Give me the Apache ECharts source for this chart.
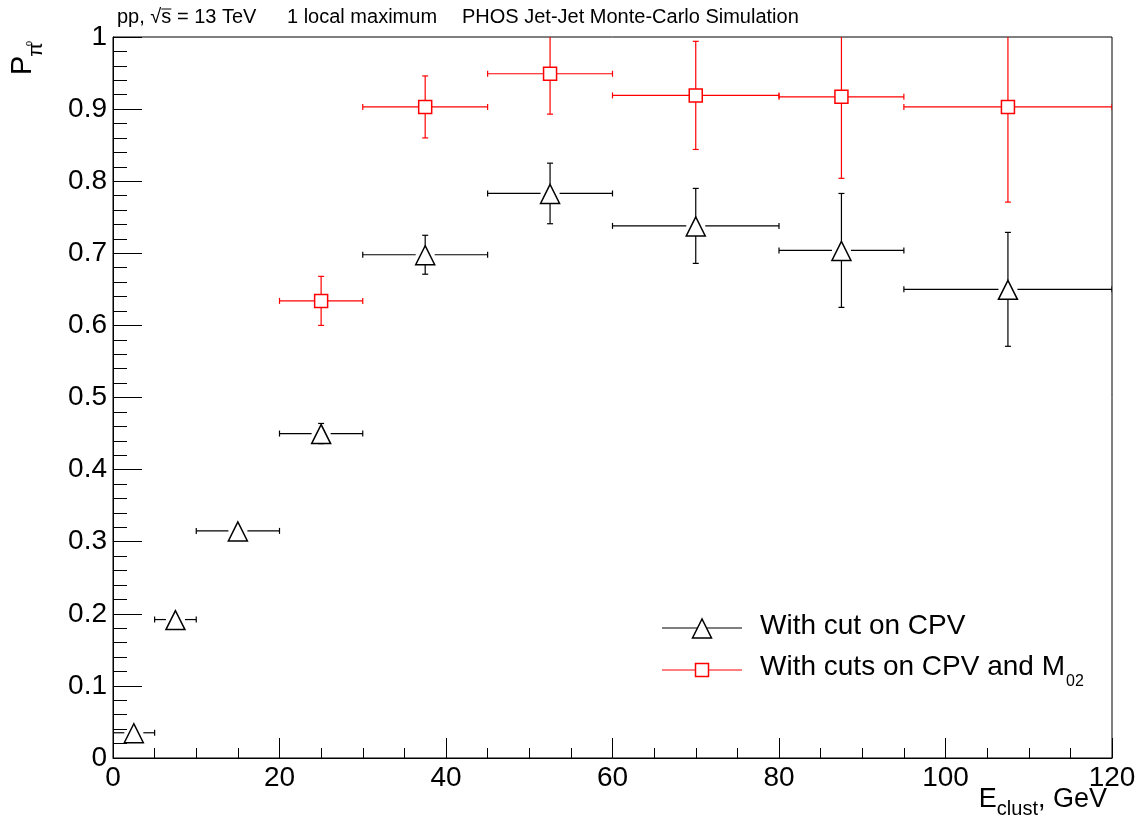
<!DOCTYPE html>
<html>
<head>
<meta charset="utf-8">
<script src="https://cdn.jsdelivr.net/npm/echarts@6/dist/echarts.min.js"></script>
<style>
  html, body { margin: 0; padding: 0; background: #fff; }
  #chart { width: 1144px; height: 827px; }
</style>
</head>
<body>
<div id="chart"></div>
<script>
// "With cut on CPV" (black triangles): bin centre, half bin width, value, stat. error
const cpvX    = [2.5, 7.5, 15, 25, 37.5, 52.5, 70, 87.5, 107.5];
const cpvXErr = [2.5, 2.5, 5, 5, 7.5, 7.5, 10, 7.5, 12.5];
const cpvY    = [0.035, 0.192, 0.315, 0.450, 0.698, 0.783, 0.738, 0.704, 0.650];
const cpvYErr = [0.004, 0.005, 0.007, 0.014, 0.027, 0.042, 0.052, 0.079, 0.079];

// "With cuts on CPV and M02" (red squares)
const m02X    = [25, 37.5, 52.5, 70, 87.5, 107.5];
const m02XErr = [5, 7.5, 7.5, 10, 7.5, 12.5];
const m02Y    = [0.634, 0.903, 0.949, 0.919, 0.917, 0.903];
const m02YErr = [0.034, 0.043, 0.056, 0.075, 0.113, 0.132];

const xTicks = [0, 20, 40, 60, 80, 100, 120];
const yTicks = [0, 0.1, 0.2, 0.3, 0.4, 0.5, 0.6, 0.7, 0.8, 0.9, 1];

const FONT = '"Liberation Sans", Arial, Helvetica, sans-serif';
const RED = '#ff0000';

const chart = echarts.init(document.getElementById('chart'));

const mctx = document.createElement('canvas').getContext('2d');
const tw = (s, size) => { mctx.font = size + 'px ' + FONT; return mctx.measureText(s).width; };
// y of the text middle for a given baseline
const mid = (base, size) => base - 0.33 * size;
const txt = (x, base, text, size, extra) => ({
  type: 'text', x: x, y: mid(base, size),
  style: Object.assign({ text: text, font: size + 'px ' + FONT, fill: '#000', verticalAlign: 'middle' }, extra || {})
});

const zip = (xs, xe, ys, ye) => xs.map((x, i) => [x, ys[i], xe[i], ye[i]]);

function errRender(kind, color) {
  return function (params, api) {
    const x = api.value(0), y = api.value(1), xe = api.value(2), ye = api.value(3);
    const c = api.coord([x, y]);
    const l = api.coord([x - xe, y]);
    const r = api.coord([x + xe, y]);
    const t = api.coord([x, y + ye]);
    const b = api.coord([x, y - ye]);
    const gap = kind === 'tri' ? 9.5 : 6.5;
    const up = kind === 'tri' ? 9 : 6.5, down = kind === 'tri' ? 10 : 6.5;
    const cap = 3;
    const ls = { stroke: color, lineWidth: 1.2 };
    const kids = [];
    const seg = (x1, y1, x2, y2) => kids.push({ type: 'line', shape: { x1, y1, x2, y2 }, style: ls });
    seg(l[0], c[1], c[0] - gap, c[1]);
    seg(c[0] + gap, c[1], r[0], c[1]);
    seg(l[0], c[1] - cap, l[0], c[1] + cap);
    seg(r[0], c[1] - cap, r[0], c[1] + cap);
    if (c[1] - t[1] > up) {
      seg(c[0], c[1] - up, c[0], t[1]);
      seg(c[0] - cap, t[1], c[0] + cap, t[1]);
    }
    if (b[1] - c[1] > down - 0.5) {
      seg(c[0], c[1] + down, c[0], b[1]);
      seg(c[0] - cap, b[1], c[0] + cap, b[1]);
    }
    if (kind === 'tri') {
      kids.push({ type: 'polygon',
        shape: { points: [[c[0], c[1] - 9], [c[0] - 9.5, c[1] + 10], [c[0] + 9.5, c[1] + 10]] },
        style: { fill: '#fff', stroke: color, lineWidth: 1.5 } });
    } else {
      kids.push({ type: 'rect', shape: { x: c[0] - 6.5, y: c[1] - 6.5, width: 13, height: 13 },
        style: { fill: '#fff', stroke: color, lineWidth: 1.5 } });
    }
    return { type: 'group', children: kids };
  };
}

// header text
const hSize = 20, hBase = 24;
const sX = 117 + tw('pp, √', hSize);
const graphics = [
  txt(117, hBase, 'pp, √s = 13 TeV', hSize),
  { type: 'line', shape: { x1: sX, y1: hBase - 15, x2: sX + tw('s', hSize), y2: hBase - 15 }, style: { stroke: '#000', lineWidth: 1 } },
  txt(287, hBase, '1 local maximum', hSize),
  txt(462, hBase, 'PHOS Jet-Jet Monte-Carlo Simulation', hSize)
];

// x title: E_clust, GeV (right aligned to frame)
const tSize = 27, tSub = 20, tBase = 808;
const partE = 'E', partSub = 'clust', partRest = ', GeV';
const titleW = tw(partE, tSize) + tw(partSub, tSub) + tw(partRest, tSize);
let tx = 1107 - titleW;
graphics.push(txt(tx, tBase, partE, tSize));
tx += tw(partE, tSize);
graphics.push(txt(tx, tBase + 8.5, partSub, tSub));
tx += tw(partSub, tSub);
graphics.push(txt(tx, tBase, partRest, tSize));

// y title: P_{pi^0}, rotated
const pW = tw('P', 29);
graphics.push({
  type: 'group', x: 33, y: 75, rotation: Math.PI / 2,
  children: [
    txt(0, 0, 'P', 29),
    txt(pW - 1, 10, 'π', 21),
    txt(29, -1, '0', 9)
  ]
});

// legend
const lgSize = 28;
graphics.push(
  { type: 'line', shape: { x1: 662, y1: 628, x2: 742, y2: 628 }, style: { stroke: '#000', lineWidth: 1.2 } },
  { type: 'polygon', shape: { points: [[702, 619], [692.5, 638], [711.5, 638]] }, style: { fill: '#fff', stroke: '#000', lineWidth: 1.5 } },
  txt(760, 636, 'With cut on CPV', lgSize),
  { type: 'line', shape: { x1: 662, y1: 670, x2: 742, y2: 670 }, style: { stroke: RED, lineWidth: 1.2 } },
  { type: 'rect', shape: { x: 695.5, y: 663.5, width: 13, height: 13 }, style: { fill: '#fff', stroke: RED, lineWidth: 1.5 } },
  txt(760, 677, 'With cuts on CPV and M', lgSize),
  txt(760 + tw('With cuts on CPV and M', lgSize) + 1, 687, '02', 16)
);

const option = {
  animation: false,
  backgroundColor: '#fff',
  grid: { left: 113, right: 32, top: 37, bottom: 69, show: true, borderColor: '#000', borderWidth: 1, backgroundColor: 'transparent' },
  xAxis: {
    type: 'value', min: xTicks[0], max: xTicks[xTicks.length - 1], interval: 20,
    axisLine: { show: true, onZero: false, lineStyle: { color: '#000', width: 1 } },
    axisTick: { show: true, inside: true, length: 20, lineStyle: { color: '#000', width: 1 } },
    minorTick: { show: true, splitNumber: 4, length: 10, lineStyle: { color: '#000', width: 1 } },
    splitLine: { show: false },
    axisLabel: { color: '#000', fontSize: 28, fontFamily: FONT, margin: 6, showMinLabel: true, showMaxLabel: true }
  },
  yAxis: {
    type: 'value', min: yTicks[0], max: yTicks[yTicks.length - 1], interval: 0.1,
    axisLine: { show: true, onZero: false, lineStyle: { color: '#000', width: 1 } },
    axisTick: { show: true, inside: true, length: 29, lineStyle: { color: '#000', width: 1 } },
    minorTick: { show: true, splitNumber: 5, length: 14, lineStyle: { color: '#000', width: 1 } },
    splitLine: { show: false },
    axisLabel: { color: '#000', fontSize: 28, fontFamily: FONT, margin: 6,
      formatter: v => String(+v.toFixed(1)) }
  },
  series: [
    { type: 'custom', name: 'With cut on CPV', clip: true, renderItem: errRender('tri', '#000'),
      encode: { x: 0, y: 1 }, data: zip(cpvX, cpvXErr, cpvY, cpvYErr), z: 3 },
    { type: 'custom', name: 'With cuts on CPV and M02', clip: true, renderItem: errRender('sq', RED),
      encode: { x: 0, y: 1 }, data: zip(m02X, m02XErr, m02Y, m02YErr), z: 4 }
  ],
  graphic: graphics
};

chart.setOption(option);
window.addEventListener('resize', () => chart.resize());
</script>
</body>
</html>
